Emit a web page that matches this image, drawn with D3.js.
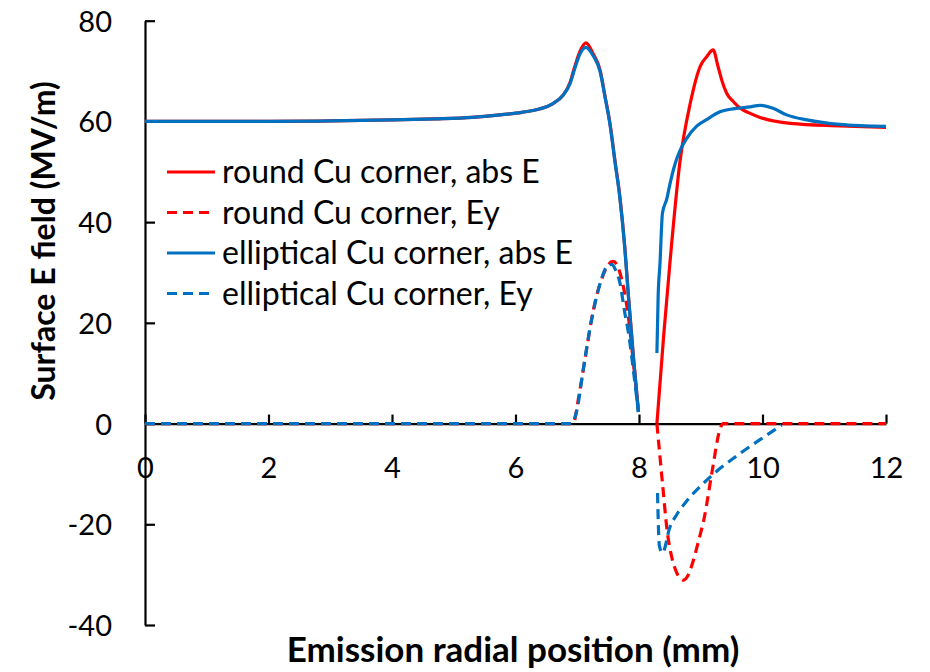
<!DOCTYPE html>
<html>
<head>
<meta charset="utf-8">
<script src="https://cdn.jsdelivr.net/npm/d3@7"></script>
<style>
  html, body { margin: 0; padding: 0; background: #fff; }
  svg { display: block; }
  .axis text { font-family: Lato, "Open Sans", sans-serif; fill: #000; }
</style>
</head>
<body>
<svg id="chart" width="930" height="672"></svg>
<script>
// Radial position along the emitting surface (mm) and surface field values (MV/m).
// null marks the gap in the surface between the two corner regions.
const roundAbsX = [0, 2, 3, 4, 4.7, 5.3, 5.75, 6.1, 6.4, 6.6, 6.77, 6.88, 6.96, 7.04, 7.14, 7.26, 7.37, 7.45, 7.53, 7.61, 7.69, 7.77, 7.83, 7.91, 7.99,
  8.1,
  8.29, 8.4, 8.5, 8.66, 8.83, 8.99, 9.1, 9.2, 9.28, 9.34, 9.42, 9.53, 9.64, 9.8, 9.96, 10.45, 11.25, 12];
const roundAbsY = [60, 60, 60.1, 60.3, 60.5, 60.8, 61.3, 61.8, 62.5, 63.5, 65.2, 67.6, 70.9, 73.8, 75.6, 73.4, 70.2, 65, 59.6, 52.3, 45.1, 35.1, 25.2, 13.3, 2.5,
  null,
  0, 17.5, 31.8, 51.7, 63.6, 70.9, 72.9, 74.2, 70.9, 68.2, 65.6, 63.9, 62.6, 61.6, 60.8, 59.6, 59.1, 58.8];

const roundEyX = [0, 6.93, 7.04, 7.15, 7.23, 7.31, 7.42, 7.5, 7.58, 7.64, 7.69, 7.75, 7.83, 7.91, 7.99,
  8.1,
  8.29, 8.38, 8.46, 8.53, 8.61, 8.72, 8.8, 8.87, 8.96, 9.06, 9.18, 9.31, 9.36, 12];
const roundEyY = [0, 0, 6.5, 14.6, 20.6, 25.2, 29.5, 31.5, 32.2, 31.6, 30, 27, 21, 12, 2.5,
  null,
  0, -11.8, -21.7, -26.5, -29.6, -31.1, -30, -27.6, -23.5, -18.5, -9.8, -1.2, 0, 0];

const ellipAbsX = [0, 2, 3, 4, 4.7, 5.3, 5.75, 6.1, 6.4, 6.6, 6.77, 6.88, 6.96, 7.04, 7.14, 7.26, 7.37, 7.45, 7.53, 7.61, 7.69, 7.77, 7.83, 7.91, 7.99,
  8.1,
  8.29, 8.31, 8.34, 8.38, 8.45, 8.5, 8.58, 8.66, 8.77, 8.93, 9.1, 9.31, 9.58, 9.8, 9.96, 10.17, 10.39, 10.72, 11.25, 12];
const ellipAbsY = [60, 60, 60.1, 60.3, 60.5, 60.8, 61.3, 61.8, 62.5, 63.5, 65.2, 67.4, 70.5, 73.3, 74.7, 73, 69.9, 64.8, 59.4, 52, 44.8, 34.8, 25, 13, 2.3,
  null,
  14, 25.2, 31.8, 41.8, 44.6, 47.5, 51.4, 54.1, 56.6, 59, 60.4, 61.9, 62.6, 62.9, 63.2, 62.6, 61.3, 60.3, 59.4, 59];

const ellipEyX = [0, 6.9, 7.0, 7.1, 7.2, 7.3, 7.4, 7.5, 7.56, 7.62, 7.69, 7.77, 7.83, 7.91, 7.99,
  8.1,
  8.3, 8.33, 8.38, 8.5, 8.61, 8.72, 9.1, 9.64, 9.96, 10.31];
const ellipEyY = [0, 0, 3, 11, 18.5, 24.5, 29, 31.5, 31.6, 30.5, 28, 22, 18, 10.5, 2.3,
  null,
  -13.8, -24.3, -25.7, -20.6, -18.1, -16.2, -11.2, -5.9, -3.2, -0.3];

const xTicks = [0, 2, 4, 6, 8, 10, 12];
const yTicks = [-40, -20, 0, 20, 40, 60, 80];

const seriesNames = [
  "round Cu corner, abs E",
  "round Cu corner, Ey",
  "elliptical Cu corner, abs E",
  "elliptical Cu corner, Ey"
];
const seriesColors = ["#FF0000", "#FF0000", "#0070C0", "#0070C0"];
const seriesDashed = [false, true, false, true];

const series = [
  { name: seriesNames[0], xs: roundAbsX, ys: roundAbsY },
  { name: seriesNames[1], xs: roundEyX, ys: roundEyY },
  { name: seriesNames[2], xs: ellipAbsX, ys: ellipAbsY },
  { name: seriesNames[3], xs: ellipEyX, ys: ellipEyY }
].map((s, i) => ({
  ...s,
  color: seriesColors[i],
  dashed: seriesDashed[i],
  points: s.xs.map((x, j) => ({ x, y: s.ys[j] }))
}));

const svg = d3.select("#chart");
const x = d3.scaleLinear().domain([0, 12]).range([145, 886]);
const y = d3.scaleLinear().domain([-40, 80]).range([625, 20.7]);

const fontFamily = "Lato, 'Open Sans', sans-serif";
const tickFont = 29;
const plainNumber = d => String(d);

// Y axis with inward ticks
const yAxis = svg.append("g")
  .attr("class", "axis")
  .attr("transform", `translate(${x(0)},0)`)
  .call(d3.axisLeft(y).tickValues(yTicks).tickFormat(plainNumber)
    .tickSizeInner(-10).tickSizeOuter(0).tickPadding(33));
yAxis.selectAll("text").style("font-size", tickFont + "px").attr("dy", "0.36em");

// X axis along y = 0 with inward ticks
const xAxis = svg.append("g")
  .attr("class", "axis")
  .attr("transform", `translate(0,${y(0)})`)
  .call(d3.axisBottom(x).tickValues(xTicks).tickFormat(plainNumber)
    .tickSizeInner(-9).tickSizeOuter(0).tickPadding(34));
xAxis.selectAll("text").style("font-size", tickFont + "px");

svg.selectAll(".axis path.domain").attr("stroke", "#000").attr("stroke-width", 2.2);
svg.selectAll(".axis line").attr("stroke", "#000").attr("stroke-width", 2.2);

// Series lines
const line = d3.line()
  .defined(d => d.y !== null)
  .x(d => x(d.x))
  .y(d => y(d.y))
  .curve(d3.curveMonotoneX);

svg.append("g").selectAll("path")
  .data(series)
  .join("path")
  .attr("d", d => line(d.points))
  .attr("fill", "none")
  .attr("stroke", d => d.color)
  .attr("stroke-width", 3.2)
  .attr("stroke-linejoin", "round")
  .attr("stroke-dasharray", d => d.dashed ? "10,6" : null);

// Legend
const legend = svg.append("g").attr("transform", "translate(167,172)");
const rows = legend.selectAll("g")
  .data(series)
  .join("g")
  .attr("transform", (d, i) => `translate(0,${i * 40.5})`);
rows.append("line")
  .attr("x1", 0).attr("x2", 48).attr("y1", 0).attr("y2", 0)
  .attr("stroke", d => d.color)
  .attr("stroke-width", 3.2)
  .attr("stroke-dasharray", d => d.dashed ? "10,6" : null);
rows.append("text")
  .attr("x", 55)
  .attr("y", 0)
  .attr("dy", "0.35em")
  .style("font-family", fontFamily)
  .style("font-size", "32px")
  .text(d => d.name);

// Axis titles
svg.append("text")
  .attr("x", 513)
  .attr("y", 662)
  .attr("text-anchor", "middle")
  .style("font-family", fontFamily)
  .style("font-weight", "bold")
  .style("font-size", "35px")
  .text("Emission radial position (mm)");

svg.append("text")
  .attr("transform", "translate(55,241) rotate(-90)")
  .attr("text-anchor", "middle")
  .style("font-family", fontFamily)
  .style("font-weight", "bold")
  .style("font-size", "32px")
  .text("Surface E field (MV/m)");
</script>
</body>
</html>
